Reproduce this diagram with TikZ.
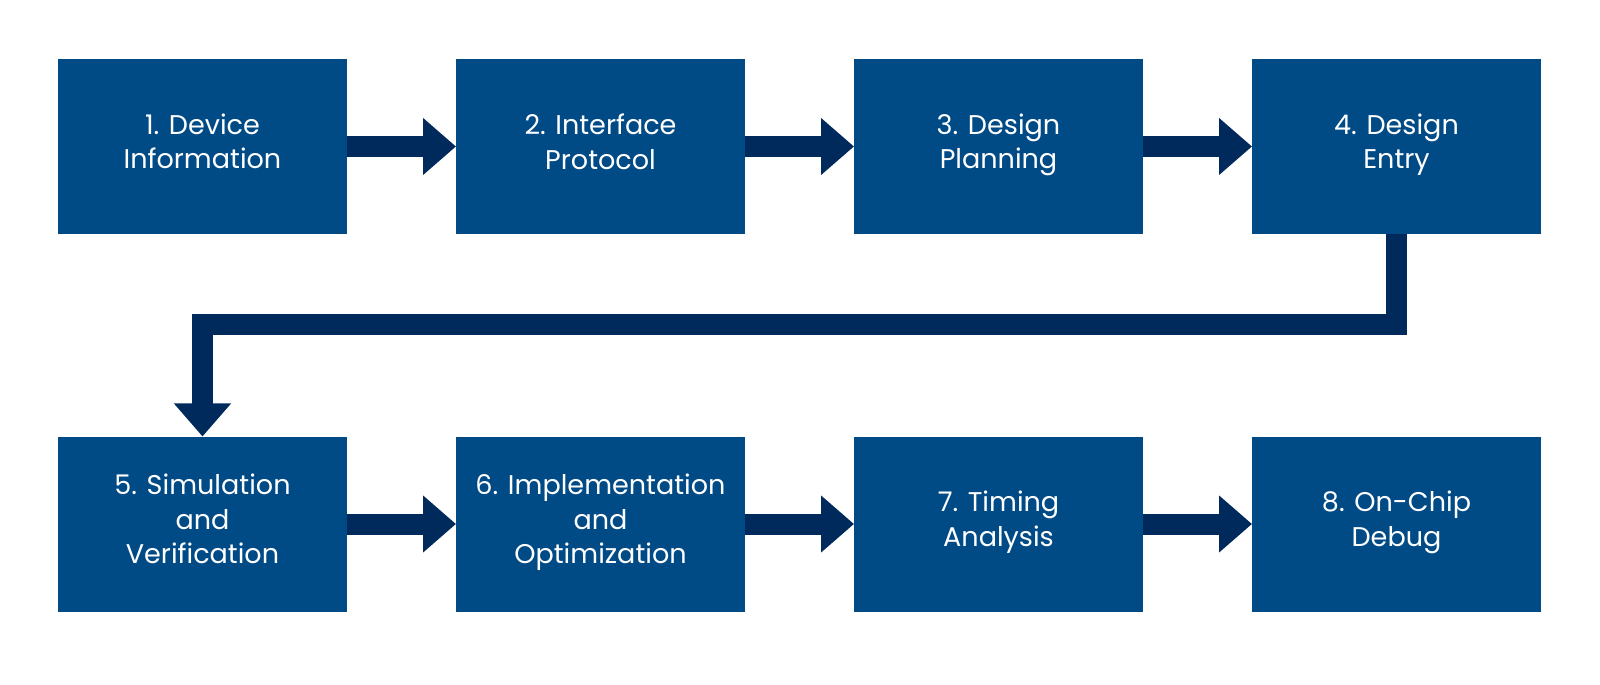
\documentclass[tikz,border=0pt]{standalone}
\usepackage{fontspec}
\setmainfont{Poppins}
\usetikzlibrary{arrows.meta,positioning}
\definecolor{stepblue}{RGB}{0,74,134}
\definecolor{flownavy}{RGB}{0,41,92}

\begin{document}
\begin{tikzpicture}[
    stepbox/.style={fill=stepblue, text=white, minimum width=2.89cm, minimum height=1.75cm,
        inner sep=0pt, outer sep=0pt, align=center, font=\fontsize{7.7}{9.9}\selectfont,
        execute at begin node=\strut, execute at end node=\strut},
    flow/.style={draw=flownavy, line width=0.21cm, line join=miter,
        -{Triangle[length=0.33cm, width=0.55cm]}}]

    \useasboundingbox (0,0) rectangle (16,6.84);

    % Top row
    \node[stepbox] (s1) at (2.025,5.375) {1. Device\\Information};
    \node[stepbox] (s2) at (6.005,5.375) {2. Interface\\Protocol};
    \node[stepbox] (s3) at (9.985,5.375) {3. Design\\Planning};
    \node[stepbox] (s4) at (13.965,5.375) {4. Design\\Entry};

    % Bottom row
    \node[stepbox] (s5) at (2.025,1.60) {5. Simulation\\and\\Verification};
    \node[stepbox] (s6) at (6.005,1.60) {6. Implementation\\and\\Optimization};
    \node[stepbox] (s7) at (9.985,1.60) {7. Timing\\Analysis};
    \node[stepbox] (s8) at (13.965,1.60) {8. On-Chip\\Debug};

    \draw[flow] (s1) -- (s2);
    \draw[flow] (s2) -- (s3);
    \draw[flow] (s3) -- (s4);

    % Wrap from step 4 down to step 5
    \draw[flow] (s4.south) -- ++(0,-0.91) -| (s5.north);

    \draw[flow] (s5) -- (s6);
    \draw[flow] (s6) -- (s7);
    \draw[flow] (s7) -- (s8);

\end{tikzpicture}
\end{document}
